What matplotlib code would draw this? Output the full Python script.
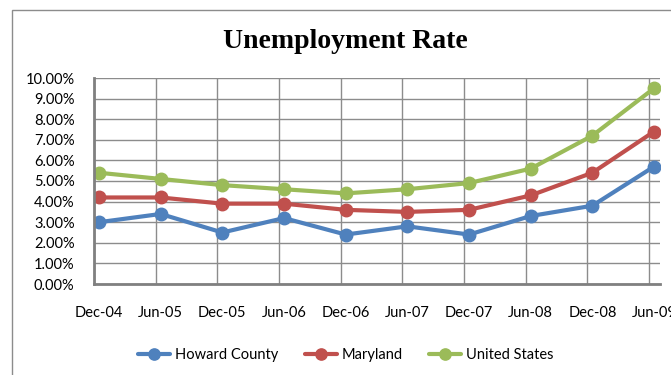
# unemployment rate line chart

import matplotlib.pyplot as plt
import matplotlib.patches as patches

# data (percent)
dates = ['Dec-04', 'Jun-05', 'Dec-05', 'Jun-06', 'Dec-06',
         'Jun-07', 'Dec-07', 'Jun-08', 'Dec-08', 'Jun-09']
howard = [3.0, 3.4, 2.5, 3.2, 2.4, 2.8, 2.4, 3.3, 3.8, 5.7]
maryland = [4.2, 4.2, 3.9, 3.9, 3.6, 3.5, 3.6, 4.3, 5.4, 7.4]
usa = [5.4, 5.1, 4.8, 4.6, 4.4, 4.6, 4.9, 5.6, 7.2, 9.5]

series = [('Howard County', howard, '#4F81BD'),
          ('Maryland', maryland, '#C0504D'),
          ('United States', usa, '#9BBB59')]

plt.rcParams['font.family'] = ['Lato', 'DejaVu Sans']

fig = plt.figure(figsize=(6.71, 3.75), dpi=100)
ax = fig.add_axes([94/671, 1-284/375, 566/671, 206/375])

x = list(range(len(dates)))
for name, vals, col in series:
    ax.plot(x, [v/100 for v in vals], color=col, linewidth=3.0,
            marker='o', markersize=9, label=name, solid_capstyle='round')

# axes ranges
ax.set_ylim(0, 0.10)
ax.set_yticks([i/100 for i in range(11)])
ax.set_yticklabels(['%.2f%%' % i for i in range(11)], fontsize=10.5)
off = 0.081
ax.set_xlim(-off, len(dates) - 1 + 0.097)
ax.set_xticks(x)
ax.set_xticklabels(dates, fontsize=10.5)
ax.set_xticks([i - off for i in x], minor=True)

# grid
ax.grid(True, which='major', axis='y', color='#8c8c8c', linewidth=1)
ax.grid(True, which='minor', axis='x', color='#8c8c8c', linewidth=1)
ax.set_axisbelow(True)
ax.tick_params(which='both', length=0)
ax.tick_params(axis='y', pad=14)
ax.tick_params(axis='x', pad=16)

for s in ['top', 'right']:
    ax.spines[s].set_visible(False)
for s in ['left', 'bottom']:
    ax.spines[s].set_color('#808080')
    ax.spines[s].set_linewidth(2)

# title
fig.text(345/671, 1-41/375, 'Unemployment Rate', ha='center', va='center',
         fontsize=20, fontweight='bold', family='Liberation Serif')

# legend
fig.legend(loc='center', bbox_to_anchor=(346/671, 1-355/375), ncol=3,
           frameon=False, fontsize=10.5, handlelength=2.2, handletextpad=0.35,
           columnspacing=1.8, markerscale=0.9)

# outer chart border
fig.patches.append(patches.Rectangle((11.5/671, -0.1), 1.2, 1.1 - 10/375,
                                     transform=fig.transFigure, fill=False,
                                     edgecolor='#8c8c8c', linewidth=1))

plt.savefig('out.png', dpi=100)
